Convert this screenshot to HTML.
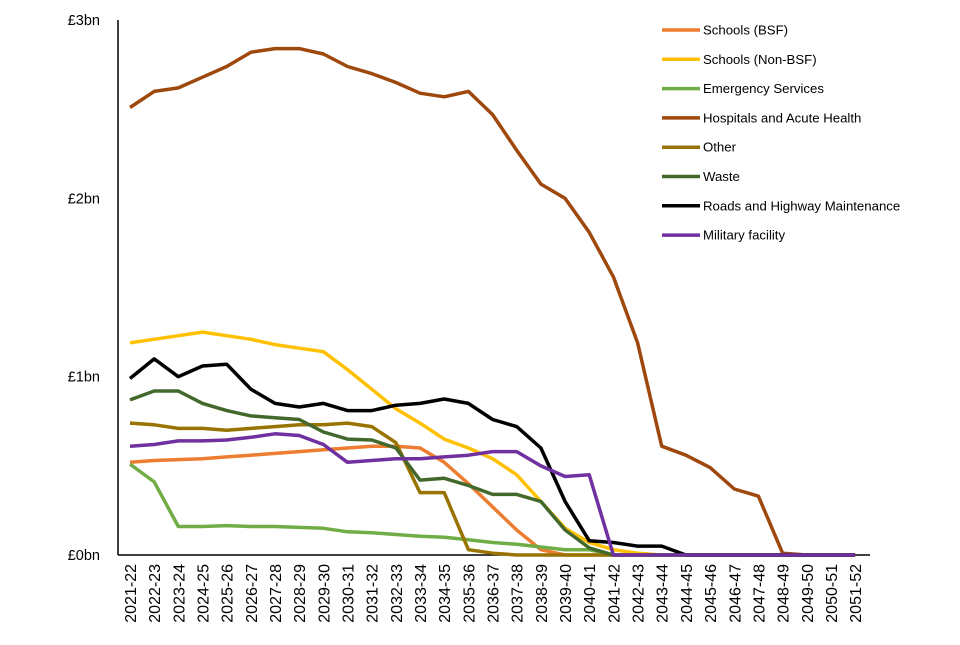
<!DOCTYPE html>
<html><head><meta charset="utf-8"><style>
body{margin:0;background:#fff;}
svg text{font-family:"Liberation Sans",sans-serif;}
</style></head><body>
<svg id="chart" width="960" height="640" xmlns="http://www.w3.org/2000/svg"></svg>
<script>
const categories=["2021-22","2022-23","2023-24","2024-25","2025-26","2026-27","2027-28","2028-29","2029-30","2030-31","2031-32","2032-33","2033-34","2034-35","2035-36","2036-37","2037-38","2038-39","2039-40","2040-41","2041-42","2042-43","2043-44","2044-45","2045-46","2046-47","2047-48","2048-49","2049-50","2050-51","2051-52"];
const yTicks=[0,1,2,3];
const yTickLabels=["£0bn","£1bn","£2bn","£3bn"];
const seriesNames=["Schools (BSF)","Schools (Non-BSF)","Emergency Services","Hospitals and Acute Health","Other","Waste","Roads and Highway Maintenance","Military facility"];
const seriesColors=["#ed7d31","#ffc000","#70ad47","#9e480e","#997300","#43682b","#000000","#7030a0"];
const schoolsBSF=[0.52,0.53,0.535,0.54,0.55,0.56,0.57,0.58,0.59,0.60,0.61,0.61,0.60,0.52,0.40,0.27,0.14,0.03,0,0,0,0,0,0,0,0,0,0,0,0,0];
const schoolsNonBSF=[1.19,1.21,1.23,1.25,1.23,1.21,1.18,1.16,1.14,1.04,0.93,0.82,0.74,0.65,0.60,0.54,0.45,0.30,0.15,0.07,0.03,0.01,0,0,0,0,0,0,0,0,0];
const emergency=[0.51,0.41,0.16,0.16,0.165,0.16,0.16,0.155,0.15,0.13,0.125,0.115,0.105,0.10,0.085,0.07,0.06,0.045,0.03,0.03,0,0,0,0,0,0,0,0,0,0,0];
const hospitals=[2.51,2.60,2.62,2.68,2.74,2.82,2.84,2.84,2.81,2.74,2.70,2.65,2.59,2.57,2.60,2.47,2.27,2.08,2.00,1.81,1.56,1.19,0.61,0.56,0.49,0.37,0.33,0.01,0,0,0];
const other=[0.74,0.73,0.71,0.71,0.70,0.71,0.72,0.73,0.73,0.74,0.72,0.63,0.35,0.35,0.03,0.01,0,0,0,0,0,0,0,0,0,0,0,0,0,0,0];
const waste=[0.87,0.92,0.92,0.85,0.81,0.78,0.77,0.76,0.69,0.65,0.645,0.60,0.42,0.43,0.39,0.34,0.34,0.30,0.14,0.04,0,0,0,0,0,0,0,0,0,0,0];
const roads=[0.99,1.10,1.00,1.06,1.07,0.93,0.85,0.83,0.85,0.81,0.81,0.84,0.85,0.875,0.85,0.76,0.72,0.60,0.30,0.08,0.07,0.05,0.05,0,0,0,0,0,0,0,0];
const military=[0.61,0.62,0.64,0.64,0.645,0.66,0.68,0.67,0.62,0.52,0.53,0.54,0.54,0.55,0.56,0.58,0.58,0.50,0.44,0.45,0,0,0,0,0,0,0,0,0,0,0];
const allSeries=[schoolsBSF,schoolsNonBSF,emergency,hospitals,other,waste,roads,military];

const svg=document.getElementById('chart');
const NS="http://www.w3.org/2000/svg";
const x0=130,dx=24.17,yBase=555,yPer=178.3;
function xs(i){return x0+i*dx;}
function ys(v){return yBase-v*yPer;}
function mk(tag,attrs){const e=document.createElementNS(NS,tag);for(const k in attrs)e.setAttribute(k,attrs[k]);svg.appendChild(e);return e;}

let ax=mk('line',{x1:118,y1:20,x2:118,y2:yBase,stroke:'#000','stroke-width':1.5});


let bx=mk('line',{x1:118,y1:yBase,x2:870,y2:yBase,stroke:'#000','stroke-width':1.5});



yTicks.forEach((v,i)=>{
  const t=mk('text',{x:100,y:ys(v)+5,'text-anchor':'end','font-size':14.5,fill:'#000'});
  t.textContent=yTickLabels[i];
  
  
});
categories.forEach((c,i)=>{
  const t=mk('text',{x:0,y:0,'text-anchor':'end','font-size':16,fill:'#000',transform:`translate(${xs(i)+6},564) rotate(-90)`});
  t.textContent=c;
  
  
});

allSeries.forEach((s,k)=>{
  const d=s.map((v,i)=>(i?'L':'M')+xs(i).toFixed(1)+','+ys(v).toFixed(1)).join(' ');
  const p=mk('path',{d:d,fill:'none',stroke:seriesColors[k],'stroke-width':3.5,'stroke-linejoin':'round'});
  
  
});

seriesNames.forEach((n,k)=>{
  const y=30+k*29.3;
  const l=mk('line',{x1:662,y1:y,x2:700,y2:y,stroke:seriesColors[k],'stroke-width':3.5});
  
  
  const t=mk('text',{x:703,y:y+4.5,'font-size':13.2,fill:'#000'});
  t.textContent=n;
  
  
});
</script>
</body></html>
